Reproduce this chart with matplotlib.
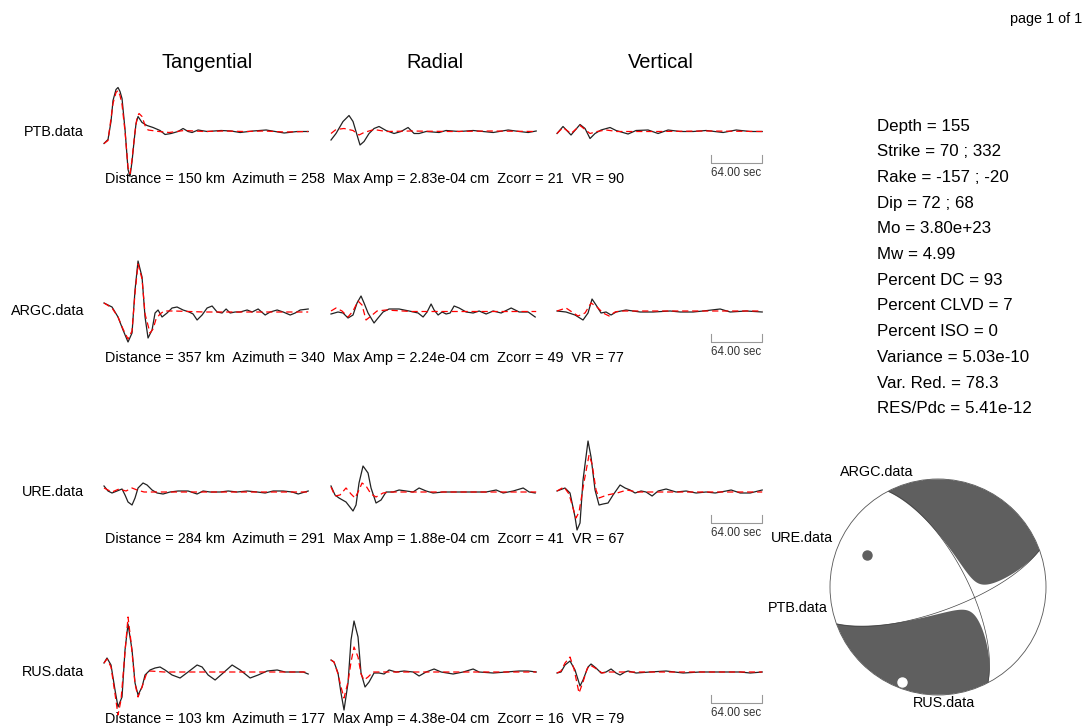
import numpy as np
import matplotlib
matplotlib.use("Agg")
import matplotlib.pyplot as plt
from matplotlib.patches import Circle

plt.rcParams['font.family'] = ['Liberation Sans', 'DejaVu Sans']

# ---------------- data ----------------
stations = ["PTB.data", "ARGC.data", "URE.data", "RUS.data"]
distances = [150, 357, 284, 103]
azimuths = [258, 340, 291, 177]
max_amps = ["2.83e-04", "2.24e-04", "1.88e-04", "4.38e-04"]
zcorr = [21, 49, 41, 16]
var_red_st = [90, 77, 67, 79]
components = ["Tangential", "Radial", "Vertical"]

DT = 1.25
WINDOW = 256.0     # seconds shown per trace
SCALE_BAR = 64.0   # seconds

# traces as (sample, relative amplitude); obs = data, syn = synthetic
ptb_tan_obs = [(0,-12),(4,-8),(7,10),(9,31),(12,42),(14,44),(16,40),(18,33),(21,2),(24,-38),(26,-45),(28,-30),(30,-10),(32,8),(34,15),(36,12),(38,9),(43,6),(49,4),(56,1),(61,-3),(67,-2),(74,0),(79,3),(84,0),(88,-1),(94,1.5),(103,0),(117,1),(127,0.5),(136,-1),(149,0.5),(162,1.5),(168,0.5),(180,-1.5),(193,0),(204,0)]
ptb_tan_syn = [(0,-12),(4,-9),(9,28),(12,39),(14,41),(16,36),(18,27),(21,0),(24,-36),(26,-42),(28,-28),(31,0),(33,14),(35,18),(38,15),(41,6),(44,1.5),(55,0),(65,-1),(80,1),(100,0),(120,0.5),(140,0),(160,0.5),(180,-0.5),(204,0)]
ptb_rad_obs = [(0,-8.5),(5,-2),(12,10),(18,16),(22,10),(26,-3.5),(29,-13.5),(33,-10),(38,-2),(43,3),(48,5),(55,1),(63,-2),(70,0),(77,4),(83,-2),(88,-2),(95,0),(108,-1),(115,1),(128,0),(142,1),(152,0),(162,-1),(177,1.5),(188,0),(197,-1),(205,0.5)]
ptb_rad_syn = [(0,-2),(5,2),(13,3),(22,1),(28,-3.5),(33,-1),(43,2),(55,0),(80,0.5),(120,0),(160,0.5),(205,0)]
ptb_ver_obs = [(0,-2),(6,5),(14,-3.5),(23,7),(28,3),(33,-7),(38,-2),(44,1.5),(53,4),(59,1),(71,-2.5),(79,1),(91,1.5),(101,-2),(111,1.5),(123,0),(136,0),(149,1),(166,-1),(179,1.5),(193,0),(205,0)]
ptb_ver_syn = [(0,-2),(6,4),(14,-2),(23,6),(33,-2),(40,0),(49,1.5),(60,0),(100,0),(150,0.5),(205,0)]

argc_tan_obs = [(0,8),(8,4),(14,-6),(19,-19),(24,-31),(28,-22),(31,21),(34,50),(38,34),(41,-6),(44,-27),(48,-19),(51,-2),(54,1),(58,-6),(63,-2),(68,3),(73,4),(79,1),(85,-1),(89,-3),(93,-9),(98,-4),(103,3),(108,5),(113,-1),(118,-2),(122,2),(126,-2),(131,-1),(136,-1),(143,1),(148,-1),(154,2),(161,-4),(166,-1),(173,1),(179,-1),(186,-4),(191,-2),(196,1),(204,2)]
argc_tan_syn = [(0,8),(8,3),(14,-6),(19,-18),(24,-28),(28,-20),(31,18),(34,47),(38,32),(41,-3),(46,-22),(49,-18),(52,-8),(56,-3),(60,0),(70,0),(100,-1),(150,-1),(204,-1)]
argc_rad_obs = [(0,-3),(7,-1),(12,-2),(17,-7),(22,-4),(26,8),(30,15),(33,8),(37,-2),(40,-7),(43,-12),(47,-7),(52,-1),(58,2),(68,2),(78,0),(87,-2),(92,-6),(96,-1),(100,7),(103,1),(107,-4),(111,-1),(115,-3),(119,-2),(123,5),(128,3),(135,-1),(142,-2),(148,0),(155,-3),(162,0),(170,-2),(180,3),(188,-1),(197,-1),(204,-6)]
argc_rad_syn = [(0,0),(5,3),(11,0),(17,-6),(22,0),(27,10),(31,6),(35,-9),(40,-5),(46,0),(55,1),(80,-0.5),(120,-0.5),(205,-0.5)]
argc_ver_obs = [(0,0),(9,-1),(18,-4),(26,-9),(31,-2),(35,12),(39,6),(44,-2),(49,-1),(54,-4),(59,-1),(69,1),(83,-1),(96,-1),(113,0),(123,-1),(136,-1),(146,0),(163,2),(173,-1),(189,0),(205,-1)]
argc_ver_syn = [(0,0),(9,3),(15,-1),(21,-5),(28,-2),(34,8),(40,4),(46,-2),(52,-5),(58,-1),(63,0),(205,0)]

ure_tan_obs = [(0,6),(4,1),(8,-1),(13,1),(18,3),(21,-3),(24,-10),(28,-13),(31,-6),(34,4),(39,9),(43,7),(48,2),(53,-1),(59,-2),(66,0),(74,1),(84,1),(93,-2),(99,1),(106,0),(116,0),(124,1),(133,0),(143,1),(153,0),(161,-1),(169,1),(179,1),(188,0),(194,-2),(204,1)]
ure_tan_syn = [(0,4),(8,0),(15,3),(22,1),(28,4),(33,2),(40,0),(60,0),(100,0),(205,0)]
ure_rad_obs = [(0,6),(4,-3),(8,-6),(15,-10),(22,-19),(25,-13),(28,9),(32,26),(37,19),(40,4),(45,-11),(50,-8),(55,0),(62,0),(68,2),(75,1),(82,0),(88,4),(95,1),(102,-1),(112,0),(128,0),(145,0),(155,0),(165,2),(172,-1),(182,1),(192,4),(198,0),(204,-1)]
ure_rad_syn = [(0,5),(4,-4),(9,-3),(15,4),(20,-2),(24,-6),(28,2),(31,9),(35,6),(40,-2),(45,-5),(52,-1),(60,0),(205,0)]
ure_ver_obs = [(0,1),(8,4),(13,-1),(18,-25),(20,-38),(23,-31),(26,12),(31,51),(34,35),(38,2),(42,-13),(46,-12),(51,-11),(56,-3),(63,7),(68,4),(73,2),(78,-1),(84,1),(89,0),(95,-4),(101,1),(109,3),(119,0),(129,1),(139,-1),(149,0),(158,-1),(169,1),(174,2),(183,-1),(193,-1),(205,2)]
ure_ver_syn = [(0,1),(7,5),(12,-2),(16,-16),(19,-26),(22,-20),(27,10),(32,37),(35,28),(39,2),(42,-6),(50,-3),(60,-1),(70,2),(80,0),(205,0)]

rus_tan_obs = [(0,9),(3,14),(7,7),(11,-18),(14,-35),(18,-25),(21,22),(24,48),(28,22),(31,-11),(34,-23),(38,-15),(41,-3),(46,2),(51,4),(56,5),(61,2),(68,-3),(76,-6),(84,0),(93,7),(98,5),(104,-3),(111,-8),(119,-1),(128,7),(136,2),(146,-6),(154,-3),(163,1),(173,2),(181,0),(189,0),(199,0),(204,-2)]
rus_tan_syn = [(0,9),(3,13),(7,5),(11,-22),(14,-43),(17,-28),(21,20),(24,55),(27,30),(31,-12),(34,-25),(38,-15),(42,-3),(46,1),(60,0),(205,0)]
rus_rad_obs = [(0,12),(3,10),(7,-1),(10,-21),(13,-38),(17,-11),(20,32),(23,51),(27,35),(30,-1),(34,-15),(38,-10),(43,-1),(48,-1),(53,-2),(58,2),(65,0),(73,1),(82,0),(88,-4),(95,0),(103,3),(110,0),(122,-2),(132,0),(142,3),(148,0),(162,-1),(175,0),(188,1),(197,1),(205,0)]
rus_rad_syn = [(0,12),(3,10),(7,-2),(10,-15),(13,-26),(17,-10),(20,10),(23,25),(27,15),(30,-2),(33,-8),(37,-5),(42,0),(60,0),(205,0)]
rus_ver_obs = [(0,-1),(4,0),(8,7),(13,11),(18,2),(23,-14),(26,-8),(31,5),(34,8),(39,4),(44,-1),(49,0),(54,3),(59,-1),(63,-3),(68,0),(71,1),(79,-1),(93,0),(109,1),(126,-1),(143,0),(159,0),(183,0),(193,-1),(205,0)]
rus_ver_syn = [(0,-1),(4,1),(8,9),(13,15),(17,3),(22,-21),(26,-10),(30,3),(33,7),(38,4),(45,-1),(52,0),(205,0)]

# mechanism
depth = 155
strike = [70, 332]
rake = [-157, -20]
dip = [72, 68]
mo = 3.80e23
mw = 4.99
pct_dc = 93
pct_clvd = 7
pct_iso = 0
variance = 5.03e-10
var_red = 78.3
res_pdc = 5.41e-12

# polarity dots on the ball (azimuth, normalised radius)
dot_az = [294, 201]
dot_r = [0.72, 0.94]
dot_face = ["#5f5f5f", "white"]

traces = [
    [(ptb_tan_obs, ptb_tan_syn), (ptb_rad_obs, ptb_rad_syn), (ptb_ver_obs, ptb_ver_syn)],
    [(argc_tan_obs, argc_tan_syn), (argc_rad_obs, argc_rad_syn), (argc_ver_obs, argc_ver_syn)],
    [(ure_tan_obs, ure_tan_syn), (ure_rad_obs, ure_rad_syn), (ure_ver_obs, ure_ver_syn)],
    [(rus_tan_obs, rus_tan_syn), (rus_rad_obs, rus_rad_syn), (rus_ver_obs, rus_ver_syn)],
]

# ---------------- figure ----------------
W, H = 1088, 728
fig = plt.figure(figsize=(W / 100, H / 100), dpi=100)


def fx(x):
    return x / W


def fy(y):
    return 1 - y / H


fig.text(fx(1082), fy(19), "page 1 of 1", ha="right", va="center", fontsize=10.4)

col_x0 = [104, 331, 557]
trace_w = 205
row_base = [131.5, 311, 492, 672]
half_h = 70

for c, name in enumerate(components):
    fig.text(fx(col_x0[c] + trace_w / 2 + 1), fy(63), name, ha="center", va="center", fontsize=14.4)

for r, st in enumerate(stations):
    base = row_base[r]
    fig.text(fx(84), fy(base), st, ha="right", va="center", fontsize=10.4)
    info = (f"Distance = {distances[r]} km  Azimuth = {azimuths[r]}  Max Amp = {max_amps[r]} cm"
            f"  Zcorr = {zcorr[r]}  VR = {var_red_st[r]}")
    fig.text(fx(105), fy(base + 47), info, ha="left", va="center", fontsize=10.4)
    for c in range(3):
        ax = fig.add_axes([fx(col_x0[c]), fy(base + half_h), trace_w / W, 2 * half_h / H])
        ax.set_xlim(0, WINDOW)
        ax.set_ylim(-half_h, half_h)
        ax.axis("off")
        obs, syn = traces[r][c]
        obs = np.array(obs, dtype=float)
        syn = np.array(syn, dtype=float)
        ax.plot(obs[:, 0] * DT, obs[:, 1], color="#222222", lw=0.9,
                solid_joinstyle="round", clip_on=False)
        ax.plot(syn[:, 0] * DT, syn[:, 1], color="red", lw=0.9, dashes=(5, 3), clip_on=False)
        if c == 2:
            t0 = WINDOW - SCALE_BAR
            ax.plot([t0, t0, WINDOW, WINDOW], [-23, -31, -31, -23], color="#999999", lw=0.8, clip_on=False)
            ax.text((t0 + WINDOW) / 2, -41, f"{SCALE_BAR:.2f} sec", ha="center", va="center",
                    fontsize=8.3, color="#333333", clip_on=False)

# summary text
lines = [
    f"Depth = {depth}",
    f"Strike = {strike[0]} ; {strike[1]}",
    f"Rake = {rake[0]} ; {rake[1]}",
    f"Dip = {dip[0]} ; {dip[1]}",
    f"Mo = {mo:.2e}",
    f"Mw = {mw:.2f}",
    f"Percent DC = {pct_dc}",
    f"Percent CLVD = {pct_clvd}",
    f"Percent ISO = {pct_iso}",
    f"Variance = {variance:.2e}",
    f"Var. Red. = {var_red:.1f}",
    f"RES/Pdc = {res_pdc:.2e}",
]
for i, s in enumerate(lines):
    fig.text(fx(877), fy(126 + i * 25.7), s, ha="left", va="center", fontsize=12.2)


# ---------------- beach ball ----------------
def mt_from_sdr(s, d, r):
    s, d, r = np.radians([s, d, r])
    mxx = -(np.sin(d) * np.cos(r) * np.sin(2 * s) + np.sin(2 * d) * np.sin(r) * np.sin(s) ** 2)
    myy = np.sin(d) * np.cos(r) * np.sin(2 * s) - np.sin(2 * d) * np.sin(r) * np.cos(s) ** 2
    mzz = np.sin(2 * d) * np.sin(r)
    mxy = np.sin(d) * np.cos(r) * np.cos(2 * s) + 0.5 * np.sin(2 * d) * np.sin(r) * np.sin(2 * s)
    mxz = -(np.cos(d) * np.cos(r) * np.cos(s) + np.cos(2 * d) * np.sin(r) * np.sin(s))
    myz = -(np.cos(d) * np.cos(r) * np.sin(s) - np.cos(2 * d) * np.sin(r) * np.cos(s))
    return np.array([[mxx, mxy, mxz], [mxy, myy, myz], [mxz, myz, mzz]])


m_dc = mt_from_sdr(strike[0], dip[0], rake[0])
w, v = np.linalg.eigh(m_dc)          # P, N, T
eps = pct_clvd / 200.0
m_full = v @ np.diag([-(1 - eps), -eps, 1.0]) @ v.T

n = 600
g = np.linspace(-1, 1, n)
X, Y = np.meshgrid(g, g)
R = np.hypot(X, Y)
inside = R <= 1.0
inc = 2 * np.arcsin(np.clip(R, 0, 1) / np.sqrt(2))
az = np.arctan2(X, Y)
gam = np.stack([np.sin(inc) * np.cos(az), np.sin(inc) * np.sin(az), np.cos(inc)])
amp_full = np.einsum("i...,ij,j...->...", gam, m_full, gam)
amp_dc = np.einsum("i...,ij,j...->...", gam, m_dc, gam)
amp_full = np.where(inside, amp_full, np.nan)
amp_dc = np.where(inside, amp_dc, np.nan)

BB_R = 108
BB_LIM = 1.45
cx, cy = 938, 587
ax_bb = fig.add_axes([fx(cx - BB_LIM * BB_R), fy(cy + BB_LIM * BB_R),
                      2 * BB_LIM * BB_R / W, 2 * BB_LIM * BB_R / H])
ax_bb.set_xlim(-BB_LIM, BB_LIM)
ax_bb.set_ylim(-BB_LIM, BB_LIM)
ax_bb.axis("off")
clip = Circle((0, 0), 1.0, transform=ax_bb.transData)
cf = ax_bb.contourf(X, Y, amp_full, levels=[0, 10], colors=["#5f5f5f"], antialiased=True)
cf.set_clip_path(clip)
cl = ax_bb.contour(X, Y, amp_dc, levels=[0], colors="#444444", linewidths=0.5)
ax_bb.add_patch(Circle((0, 0), 1.0, fill=False, lw=0.6, ec="#555555"))
for a, rr, fc in zip(dot_az, dot_r, dot_face):
    ax_bb.plot(rr * np.sin(np.radians(a)), rr * np.cos(np.radians(a)), "o",
               ms=6.5, mfc=fc, mec=fc, clip_on=False)

ax_bb.text(-0.565, 1.065, "ARGC.data", ha="center", va="center", fontsize=10.4)
ax_bb.text(-0.972, 0.454, "URE.data", ha="right", va="center", fontsize=10.4)
ax_bb.text(-1.019, -0.194, "PTB.data", ha="right", va="center", fontsize=10.4)
ax_bb.text(0.056, -1.074, "RUS.data", ha="center", va="center", fontsize=10.4)

fig.savefig("out.png", dpi=100)
